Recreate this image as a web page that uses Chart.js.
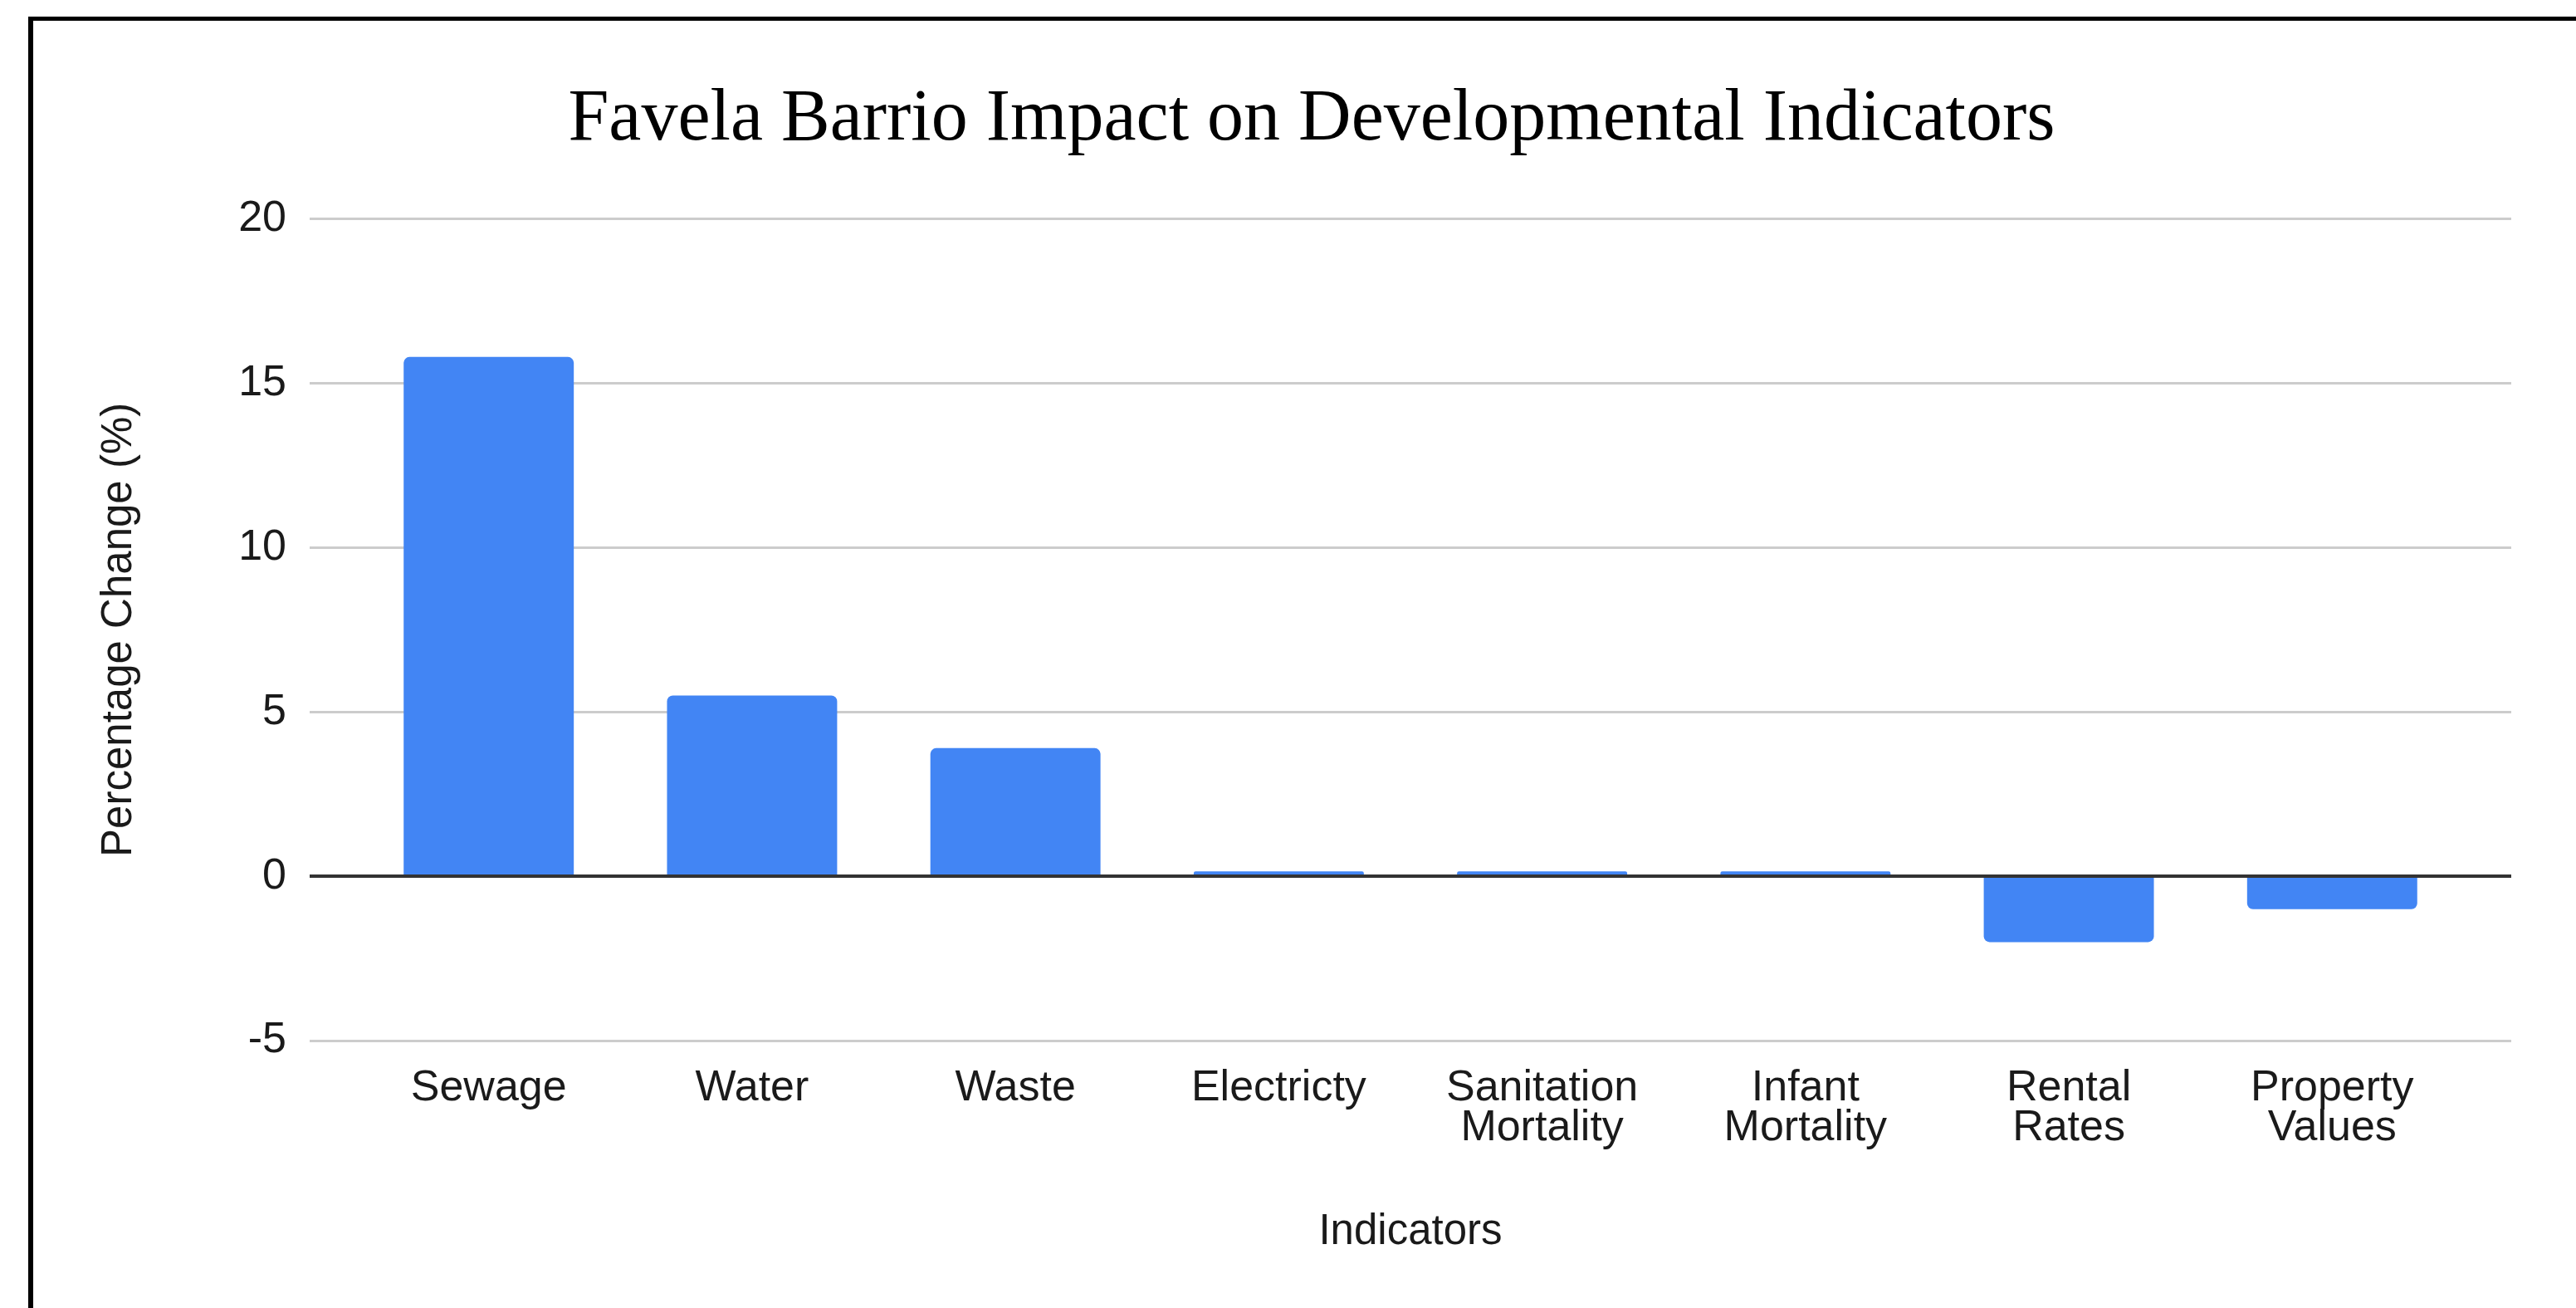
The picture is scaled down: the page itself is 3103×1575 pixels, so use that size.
<!DOCTYPE html>
<html><head><meta charset="utf-8">
<script src="https://cdn.jsdelivr.net/npm/chart.js@4.4.1/dist/chart.umd.min.js"></script>
<style>
html,body{margin:0;padding:0;background:#fff;overflow:hidden;width:3103px;height:1575px;}
#frame{position:absolute;left:34px;top:20px;width:4000px;height:4000px;border-top:5px solid #000;border-left:6px solid #000;}
#c{position:absolute;left:40px;top:25px;}
</style></head><body>
<div id="frame"></div>
<canvas id="c" width="3080" height="1550"></canvas>
<script>
const chartTitle = 'Favela Barrio Impact on Developmental Indicators';
const xTitle = 'Indicators';
const yTitle = 'Percentage Change (%)';
const categories = [['Sewage'], ['Water'], ['Waste'], ['Electricty'], ['Sanitation', 'Mortality'], ['Infant', 'Mortality'], ['Rental', 'Rates'], ['Property', 'Values']];
const values = [15.8, 5.5, 3.9, 0.15, 0.15, 0.15, -2.0, -1.0];
const yTicks = [-5, 0, 5, 10, 15, 20];

const SANS = "'Liberation Sans', Arial, Helvetica, sans-serif";
const SERIF = "'Liberation Serif', 'Times New Roman', serif";
Chart.defaults.font.family = SANS;

new Chart(document.getElementById('c'), {
  type: 'bar',
  data: {
    datasets: [{
      data: values.map((v, i) => ({ x: i, y: v })),
      backgroundColor: '#4285f4',
      borderRadius: 7,
      borderSkipped: 'start',
      barPercentage: 0.646,
      categoryPercentage: 1,
      xAxisID: 'x',
      yAxisID: 'y'
    }]
  },
  options: {
    responsive: false,
    animation: false,
    events: [],
    layout: { padding: { left: 0, right: 0, top: 0, bottom: 60 } },
    plugins: {
      legend: { display: false },
      tooltip: { enabled: false },
      title: {
        display: true, text: chartTitle, color: '#000',
        font: { family: SERIF, size: 88, weight: 'normal', lineHeight: 1.2 },
        padding: { top: 67, bottom: 66 }
      }
    },
    scales: {
      x: {
        type: 'linear', position: 'bottom', min: -0.68, max: 7.68, offset: false,
        grid: { display: false, drawTicks: false, offset: false },
        border: { display: false },
        afterBuildTicks: (s) => { s.ticks = categories.map((c, i) => ({ value: i })); },
        ticks: {
          callback: (v) => categories[v], color: '#1a1a1a',
          font: { size: 52, lineHeight: 0.92 }, padding: 34,
          maxRotation: 0, minRotation: 0, autoSkip: false
        },
        title: { display: true, text: xTitle, color: '#1a1a1a', font: { size: 51, lineHeight: 1.2 }, padding: { top: 37, bottom: 0 } }
      },
      y: {
        position: 'left', min: yTicks[0], max: yTicks[yTicks.length - 1],
        afterBuildTicks: (s) => { s.ticks = yTicks.map(v => ({ value: v })); },
        ticks: { color: '#1a1a1a', font: { size: 52 }, padding: 28 },
        grid: { color: '#cccccc', lineWidth: 3, drawTicks: false },
        border: { display: false },
        title: { display: true, text: yTitle, color: '#1a1a1a', font: { size: 51, lineHeight: 1.2 }, padding: { top: 73, bottom: 0 } },
        afterFit: (s) => { s.width = 333; }
      },
      yz: {
        position: 'right', min: yTicks[0], max: yTicks[yTicks.length - 1],
        afterBuildTicks: (s) => { s.ticks = yTicks.map(v => ({ value: v })); },
        ticks: { display: false },
        grid: {
          z: 1, drawTicks: false,
          color: (ctx) => (ctx.tick && ctx.tick.value === 0) ? '#333333' : 'rgba(0,0,0,0)',
          lineWidth: 4
        },
        border: { display: false },
        afterFit: (s) => { s.width = 95; }
      }
    }
  }
});
</script>
</body></html>
